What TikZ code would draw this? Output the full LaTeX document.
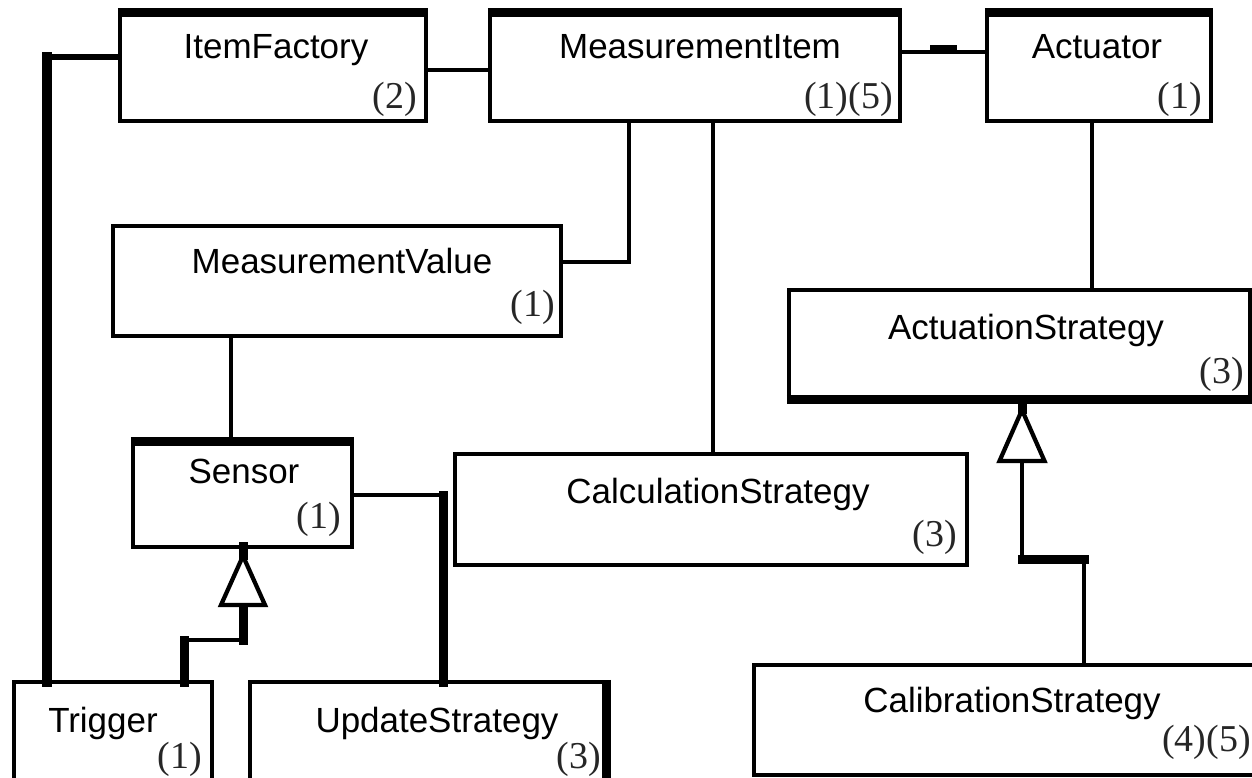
\documentclass[tikz,border=0pt]{standalone}
\usepackage{fontspec}
\setmainfont{Liberation Serif}
\newfontfamily\namefont{Liberation Sans}
\usetikzlibrary{calc}
\begin{document}
\begin{tikzpicture}[x=0.02cm,y=-0.02cm,
  box/.style={draw, line width=0.09cm, inner sep=0pt, outer sep=0pt, anchor=north west, fill=white},
  link/.style={line width=0.09cm},
  heavy/.style={line width=0.18cm, line cap=rect},
  heavyborder/.style={line width=0.18cm, line cap=butt, shorten <=-0.045cm, shorten >=-0.045cm},
  tri/.style={line width=0.085cm, fill=white, line join=miter},
  cname/.style={font=\namefont\fontsize{19.9}{24}\selectfont, inner sep=0pt, anchor=base},
  cnum/.style={font=\fontsize{21.6}{26}\selectfont, inner sep=0pt, anchor=base east, text=black!85}]
\useasboundingbox (0,0) rectangle (1252,778);
\clip (0,0) rectangle (1252,778);
\fill[white] (0,0) rectangle (1252,778);

% boxes
\node[box, minimum width=6.12cm, minimum height=2.18cm] (itemfactory) at (120,12) {};
\node[box, minimum width=8.2cm, minimum height=2.18cm] (mi) at (490,12) {};
\node[box, minimum width=4.48cm, minimum height=2.18cm] (actuator) at (987,12) {};
\node[box, minimum width=8.96cm, minimum height=2.2cm] (mv) at (113,226) {};
\node[box, minimum width=4.38cm, minimum height=2.12cm] (sensor) at (133,441) {};
\node[box, minimum width=10.24cm, minimum height=2.22cm] (cs) at (455,454) {};
\node[box, minimum width=9.22cm, minimum height=2.2cm] (as) at (789,290) {};
\node[box, minimum width=3.96cm, minimum height=2.76cm] (trigger) at (14,682) {};
\node[box, minimum width=7.14cm, minimum height=2.76cm] (us) at (250,682) {};
\node[box, minimum width=10.52cm, minimum height=2.2cm] (calib) at (754,665) {};

% thick borders
\draw[heavyborder] (itemfactory.north west) -- (itemfactory.north east);
\draw[heavyborder] (mi.north west) -- (mi.north east);
\draw[heavyborder] (actuator.north west) -- (actuator.north east);
\draw[heavyborder] (sensor.north west) -- (sensor.north east);
\draw[heavyborder] (as.south west) -- (as.south east);
\draw[heavyborder] (us.north east) -- (us.south east);

% connector helper coordinates
\coordinate (j1) at (47,57);
\coordinate (j2) at (458,70);
\coordinate (j3) at (940,52);
\coordinate (j4) at (629,262);
\coordinate (j5) at (713,300);
\coordinate (j6) at (1092,200);
\coordinate (j7) at (231,400);
\coordinate (j8) at (443,495);
\coordinate (g1) at (184,640);
\coordinate (g2) at (243,640);
\coordinate (g3) at (1084,559);
\coordinate (g4) at (1022,559);

% ItemFactory -- Trigger
\draw[line width=0.12cm] (itemfactory.west |- j1) -- (j1);
\draw[heavy, line width=0.2cm] (j1) -- (trigger.north -| j1);
% ItemFactory -- MeasurementItem
\draw[link] (itemfactory.east |- j2) -- (mi.west |- j2);
% MeasurementItem -- Actuator
\draw[link] (mi.east |- j3) -- (actuator.west |- j3);
\fill (930,45) rectangle (957,54);
% MeasurementItem -- MeasurementValue
\draw[link] (mi.south -| j4) |- (mv.east |- j4);
% MeasurementItem -- CalculationStrategy
\draw[link] (mi.south -| j5) -- (cs.north -| j5);
% Actuator -- ActuationStrategy
\draw[link] (actuator.south -| j6) -- (as.north -| j6);
% MeasurementValue -- Sensor
\draw[link] (mv.south -| j7) -- (sensor.north -| j7);
% Sensor -- UpdateStrategy
\draw[link] (sensor.east |- j8) -- (j8);
\draw[heavy] (j8) -- (us.north -| j8);

% Trigger -> Sensor (generalization)
\coordinate (sb) at ($(sensor.south -| g2)+(0,58)$);
\coordinate (sa) at ($(sensor.south -| g2)+(0,9)$);
\draw[heavy] (trigger.north -| g1) -- (g1);
\draw[link] (g1) -- (g2);
\draw[heavy] (g2) -- (sb);
\draw[heavy] (sensor.south -| g2) -- (sa);
\draw[tri] ($(sb)+(-22,0)$) -- (sa) -- ($(sb)+(22,0)$) -- cycle;

% CalibrationStrategy -> ActuationStrategy (generalization)
\coordinate (ab) at ($(as.south -| g4)+(0,61)$);
\coordinate (aa) at ($(as.south -| g4)+(0,10)$);
\draw[link] (calib.north -| g3) -- (g3);
\draw[heavy] (g3) -- (g4);
\draw[link] (g4) -- (ab);
\draw[heavy] (as.south -| g4) -- (aa);
\draw[tri] ($(ab)+(-22.5,0)$) -- (aa) -- ($(ab)+(22.5,0)$) -- cycle;

% class names
\node[cname] (tif) at (276,58) {ItemFactory};
\node[cname] (tmi) at (700,58) {MeasurementItem};
\node[cname] (tac) at (1097,58) {Actuator};
\node[cname] (tmv) at (342,273) {MeasurementValue};
\node[cname] (tse) at (244,483) {Sensor};
\node[cname] (tas) at (1026,339) {ActuationStrategy};
\node[cname] (tcs) at (718,503) {CalculationStrategy};
\node[cname] (ttr) at (103,732) {Trigger};
\node[cname] (tus) at (437,732) {UpdateStrategy};
\node[cname] (tca) at (1012,712) {CalibrationStrategy};

% numbers
\node[cnum] (nif) at (417,108) {(2)};
\node[cnum] (nmi) at (893,108) {(1)(5)};
\node[cnum] (nac) at (1202,108) {(1)};
\node[cnum] (nmv) at (555,316) {(1)};
\node[cnum] (nse) at (341,528) {(1)};
\node[cnum] (nas) at (1244,383) {(3)};
\node[cnum] (ncs) at (957,546) {(3)};
\node[cnum] (ntr) at (202,768) {(1)};
\node[cnum] (nus) at (601,768) {(3)};
\node[cnum] (nca) at (1251,751) {(4)(5)};
\end{tikzpicture}
\end{document}
